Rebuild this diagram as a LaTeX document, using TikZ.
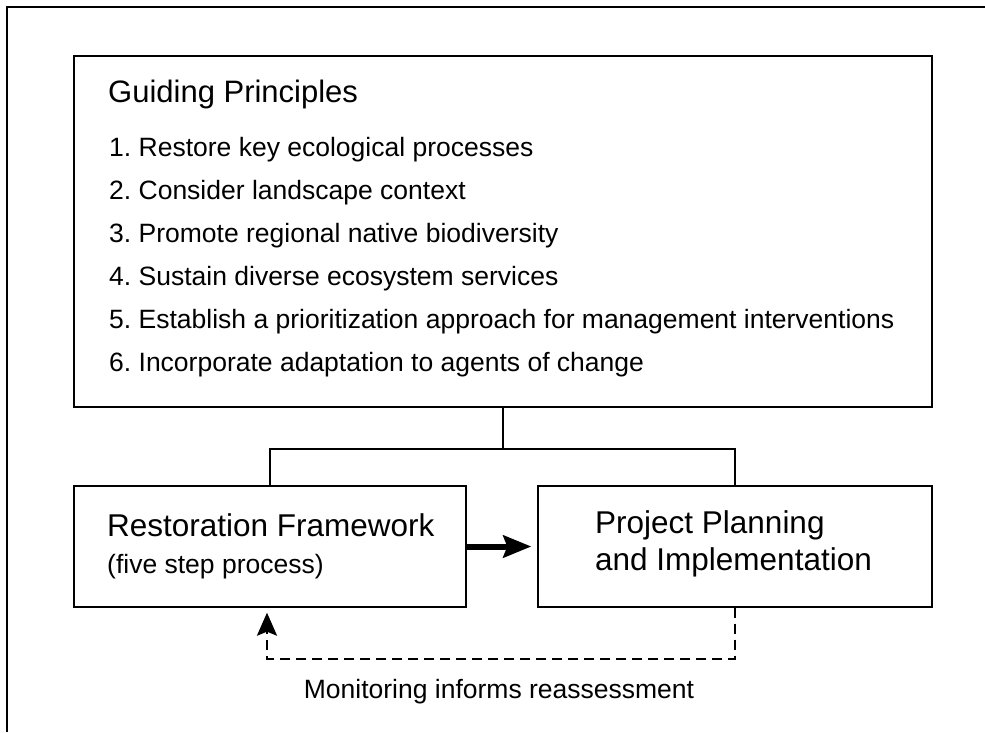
\documentclass[tikz,border=0pt]{standalone}
\usepackage{fontspec}
\setmainfont{Liberation Sans}
\usetikzlibrary{arrows.meta,calc}
\frenchspacing
\tikzset{
  box/.style={draw=black, line width=1.3pt, inner sep=0pt},
  big/.style={inner sep=0pt, anchor=base west, font=\fontsize{31.5}{36}\selectfont},
  ttl/.style={inner sep=0pt, anchor=base west, font=\fontsize{31}{36}\selectfont},
  small/.style={inner sep=0pt, anchor=base west, font=\fontsize{26.5}{30}\selectfont},
  conn/.style={line width=2pt},
  dashconn/.style={line width=2.3pt, dash pattern=on 10pt off 6pt},
}
\begin{document}
\begin{tikzpicture}[x=1pt,y=-1pt]
\useasboundingbox (0,0) rectangle (985,732);
% outer frame (only top and left visible)
\draw[line width=2pt] (6.5,732) -- (6.5,6.5) -- (985,6.5);
% boxes
\node[box, minimum width=858pt, minimum height=351pt] (gp) at (503,231.5) {};
\node[box, minimum width=392pt, minimum height=121pt] (rf) at (270,546.5) {};
\node[box, minimum width=394pt, minimum height=121pt] (pp) at (735,546.5) {};
% texts
\node[ttl] (t0) at (108,102) {Guiding Principles};
\node[small] (t1) at (109,156) {1. Restore key ecological processes};
\node[small] (t2) at (109,199) {2. Consider landscape context};
\node[small] (t3) at (109,242) {3. Promote regional native biodiversity};
\node[small] (t4) at (109,285) {4. Sustain diverse ecosystem services};
\node[small] (t5) at (109,328) {5. Establish a prioritization approach for management interventions};
\node[small] (t6) at (109,371) {6. Incorporate adaptation to agents of change};
\node[big] (r1) at (107,536) {Restoration Framework};
\node[small] (r2) at (107,573) {(five step process)};
\node[big] (p1) at (595,533) {Project Planning};
\node[big] (p2) at (595,570) {and Implementation};
\node[small, anchor=base] (mon) at (499,698) {Monitoring informs reassessment};
% connectors
\coordinate (j) at ($(gp.south)+(0,41)$);
\draw[conn] (gp.south) -- (j);
\draw[conn] (j) -| (rf.north);
\draw[conn] (j) -| (pp.north);
\draw[line width=6pt, -{Stealth[length=28pt,width=22pt,inset=4pt]}] (rf.east) -- ($(pp.west)+(-6,0)$);
\coordinate (dtip) at ($(rf.south)+(-3,5)$);
\draw[dashconn, -{Stealth[length=23pt,width=20pt,inset=4pt]}] (pp.south) -- ++(0,51) -| (dtip);
\end{tikzpicture}
\end{document}
